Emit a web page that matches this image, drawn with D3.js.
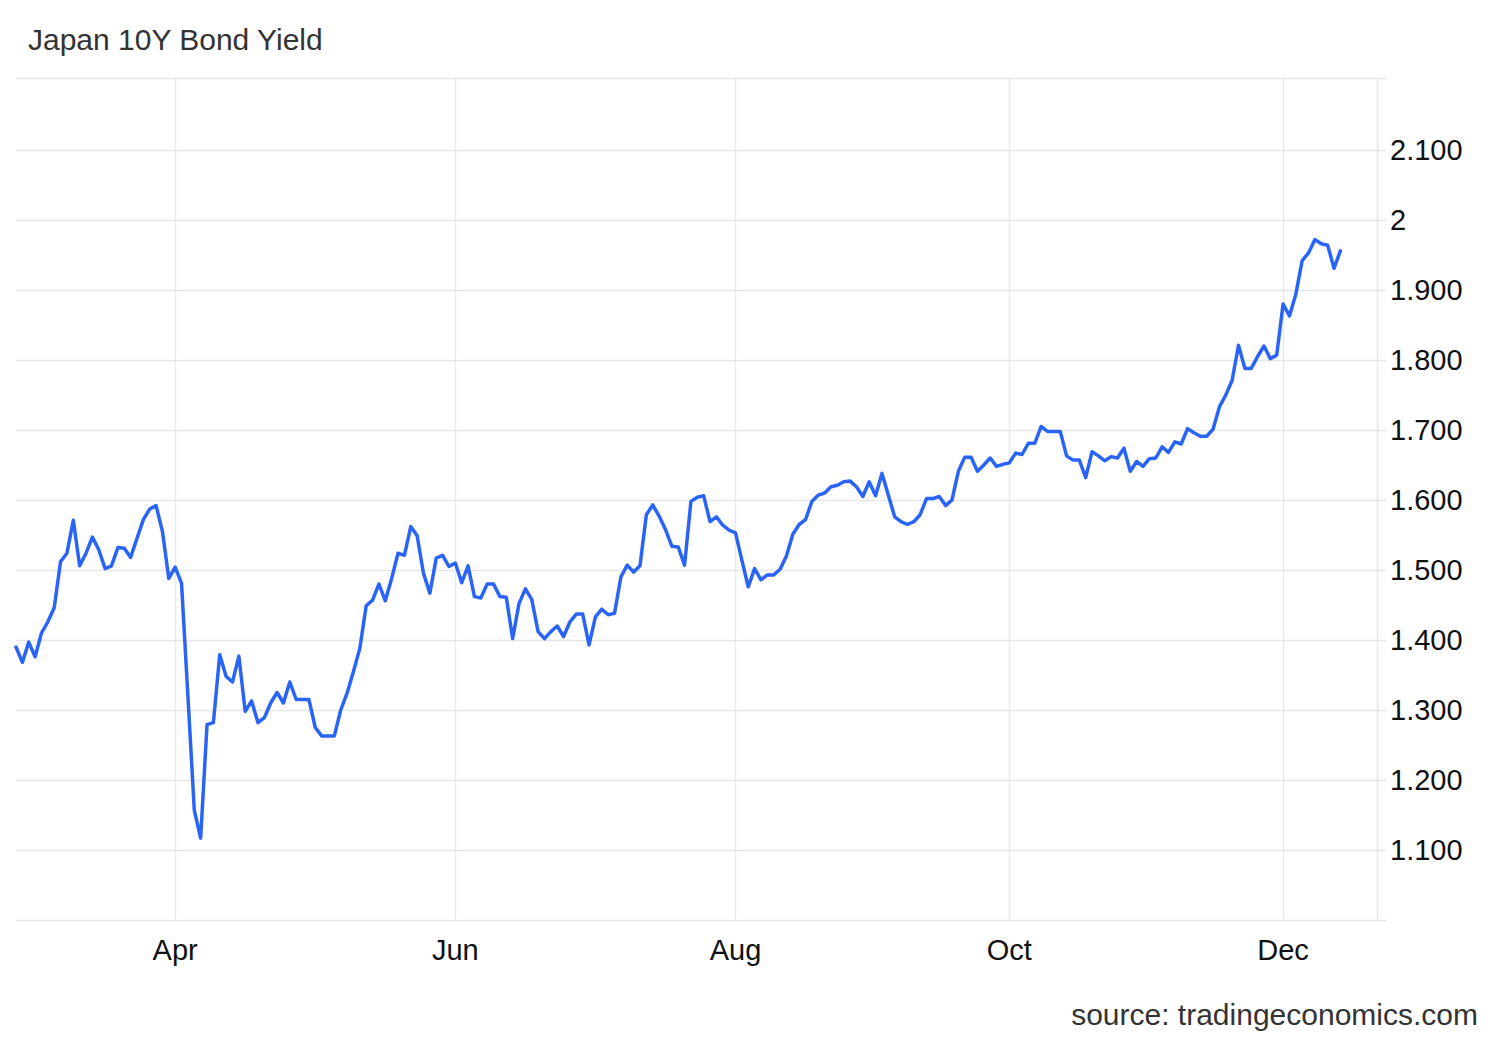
<!DOCTYPE html>
<html>
<head>
<meta charset="utf-8">
<script src="https://cdn.jsdelivr.net/npm/d3@7"></script>
<style>
  html, body { margin: 0; padding: 0; background: #ffffff; }
  svg { display: block; }
  text { font-family: "Liberation Sans", Arial, Helvetica, sans-serif; }
</style>
</head>
<body>
<svg id="chart" width="1500" height="1040"></svg>
<script>
// ---------------- DATA ----------------
const title = "Japan 10Y Bond Yield";
const sourceText = "source: tradingeconomics.com";
// first observation; one value per weekday (trading day) from here on
const startDate = "2025-02-25";
const yields = [
  1.390, 1.368, 1.397, 1.376, 1.410, 1.426, 1.446, 1.512, 1.524, 1.571,
  1.506, 1.524, 1.547, 1.529, 1.502, 1.506, 1.532, 1.531, 1.518, 1.545,
  1.572, 1.587, 1.592, 1.555, 1.488, 1.504, 1.481, 1.320, 1.157, 1.117,
  1.279, 1.282, 1.379, 1.348, 1.340, 1.377, 1.298, 1.313, 1.282, 1.289,
  1.310, 1.325, 1.310, 1.340, 1.315, 1.315, 1.315, 1.275, 1.263, 1.263,
  1.263, 1.300, 1.324, 1.355, 1.388, 1.449, 1.457, 1.480, 1.456, 1.488,
  1.524, 1.521, 1.562, 1.549, 1.495, 1.467, 1.517, 1.521, 1.505, 1.510,
  1.482, 1.506, 1.462, 1.460, 1.480, 1.480, 1.462, 1.461, 1.402, 1.452,
  1.473, 1.458, 1.412, 1.402, 1.412, 1.420, 1.405, 1.426, 1.437, 1.437,
  1.393, 1.433, 1.444, 1.436, 1.438, 1.490, 1.507, 1.497, 1.506, 1.579,
  1.593, 1.577, 1.558, 1.534, 1.533, 1.507, 1.598, 1.604, 1.606, 1.569,
  1.576, 1.564, 1.557, 1.553, 1.514, 1.476, 1.502, 1.486, 1.493, 1.493,
  1.501, 1.520, 1.551, 1.565, 1.572, 1.598, 1.607, 1.610, 1.619, 1.621,
  1.626, 1.627, 1.619, 1.605, 1.626, 1.606, 1.638, 1.607, 1.576, 1.569,
  1.565, 1.569, 1.579, 1.602, 1.602, 1.605, 1.592, 1.600, 1.641, 1.661,
  1.661, 1.641, 1.650, 1.660, 1.648, 1.651, 1.653, 1.667, 1.665, 1.681,
  1.681, 1.705, 1.698, 1.698, 1.698, 1.663, 1.657, 1.657, 1.632, 1.669,
  1.663, 1.656, 1.662, 1.660, 1.674, 1.641, 1.655, 1.648, 1.659, 1.660,
  1.676, 1.668, 1.683, 1.680, 1.702, 1.696, 1.691, 1.691, 1.701, 1.733,
  1.750, 1.771, 1.821, 1.788, 1.788, 1.805, 1.820, 1.802, 1.807, 1.880,
  1.863, 1.894, 1.942, 1.953, 1.972, 1.966, 1.964, 1.931, 1.956
];
const xTickMonths = ["2025-04", "2025-06", "2025-08", "2025-10", "2025-12"];
const xTickLabels = ["Apr", "Jun", "Aug", "Oct", "Dec"];
const yTickValues = [1.1, 1.2, 1.3, 1.4, 1.5, 1.6, 1.7, 1.8, 1.9, 2.0, 2.1];
const yTickLabels = ["1.100", "1.200", "1.300", "1.400", "1.500", "1.600", "1.700", "1.800", "1.900", "2", "2.100"];

// ---------------- BUILD TABLE ----------------
// consecutive weekdays starting at startDate
const parse = d3.utcParse("%Y-%m-%d");
const dates = [];
{
  let d = parse(startDate);
  while (dates.length < yields.length) {
    const wd = d.getUTCDay();
    if (wd !== 0 && wd !== 6) dates.push(new Date(d));
    d = d3.utcDay.offset(d, 1);
  }
}
const data = yields.map((v, i) => ({ i, date: dates[i], v }));
const fmtMonth = d3.utcFormat("%Y-%m");
const xTickIdx = xTickMonths.map(m => data.find(p => fmtMonth(p.date) === m).i);

// ---------------- LAYOUT ----------------
const plotLeft = 16, plotRight = 1377, plotTop = 78, plotBottom = 920;
const tickExt = 9;

// ordinal (trading-day) x axis
const x = d3.scaleLinear().domain([0, 213.75]).range([plotLeft, plotRight]);
const y = d3.scaleLinear().domain([1.1, 2.1]).range([850, 150]);

const svg = d3.select("#chart");
svg.append("rect").attr("width", 1500).attr("height", 1040).attr("fill", "#ffffff");

// vertical month grid lines
svg.append("g").selectAll("line").data(xTickIdx).join("line")
  .attr("x1", d => Math.round(x(d)) + 0.5).attr("x2", d => Math.round(x(d)) + 0.5)
  .attr("y1", plotTop).attr("y2", plotBottom)
  .attr("stroke", "#e6eaf2").attr("stroke-width", 1.5);

// horizontal grid lines (incl. frame top and bottom)
const hLines = [plotTop, plotBottom].concat(yTickValues.map(v => y(v)));
svg.append("g").selectAll("line").data(hLines).join("line")
  .attr("x1", plotLeft).attr("x2", plotRight + tickExt)
  .attr("y1", d => Math.round(d) + 0.5).attr("y2", d => Math.round(d) + 0.5)
  .attr("stroke", "#e6e6e6").attr("stroke-width", 1.5);

// right axis line
svg.append("line")
  .attr("x1", plotRight + 0.5).attr("x2", plotRight + 0.5)
  .attr("y1", plotTop).attr("y2", plotBottom)
  .attr("stroke", "#e6e6e6").attr("stroke-width", 1.5);

// data line
const line = d3.line().x(d => x(d.i)).y(d => y(d.v)).curve(d3.curveLinear);
svg.append("path").datum(data)
  .attr("d", line)
  .attr("fill", "none")
  .attr("stroke", "#2a64f6")
  .attr("stroke-width", 3.5)
  .attr("stroke-linejoin", "round")
  .attr("stroke-linecap", "round");

// y axis labels
svg.append("g").selectAll("text").data(yTickValues).join("text")
  .attr("x", 1390)
  .attr("y", d => y(d) + 10)
  .attr("font-size", 29)
  .attr("fill", "#111111")
  .text((d, k) => yTickLabels[k]);

// x axis labels
svg.append("g").selectAll("text").data(xTickIdx).join("text")
  .attr("x", d => x(d))
  .attr("y", 960)
  .attr("text-anchor", "middle")
  .attr("font-size", 29)
  .attr("fill", "#111111")
  .text((d, k) => xTickLabels[k]);

// title
svg.append("text")
  .attr("x", 28).attr("y", 50)
  .attr("font-size", 30)
  .attr("fill", "#333333")
  .text(title);

// source
svg.append("text")
  .attr("x", 1478).attr("y", 1025)
  .attr("text-anchor", "end")
  .attr("font-size", 30)
  .attr("fill", "#333333")
  .text(sourceText);
</script>
</body>
</html>
